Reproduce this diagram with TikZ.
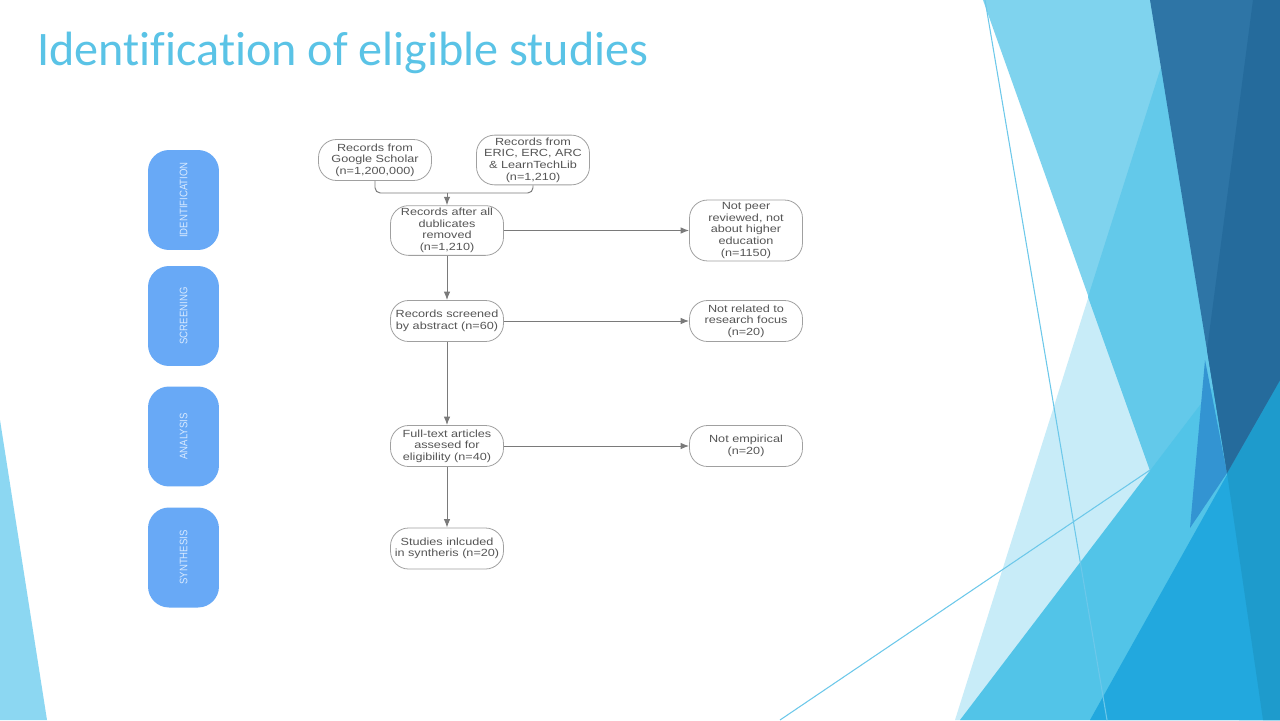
\documentclass[tikz,border=0pt]{standalone}
\usepackage{fontspec}
\setmainfont{Liberation Sans}
\newfontfamily\titlefont[Ligatures=NoCommon]{Carlito}
\newfontfamily\boxfont[FakeStretch=1.22]{Liberation Sans}
\newfontfamily\phasefont[FakeStretch=0.88]{Liberation Sans}
\usetikzlibrary{arrows.meta,positioning}

\definecolor{titleblue}{HTML}{5AC3E6}
\definecolor{phaseblue}{HTML}{68A9F6}
\definecolor{phasetext}{HTML}{D8EAFF}
\definecolor{boxline}{HTML}{A0A0A0}
\definecolor{boxtext}{HTML}{555555}
\definecolor{edgeline}{HTML}{7A7A7A}
\definecolor{deco0}{HTML}{8CD7F2}
\definecolor{deco1}{HTML}{C8ECF8}
\definecolor{deco2}{HTML}{7FD3EE}
\definecolor{deco3}{HTML}{63C9EA}
\definecolor{deco4}{HTML}{52C4E8}
\definecolor{deco5}{HTML}{22A8DE}
\definecolor{deco6}{HTML}{1E9BCC}
\definecolor{deco7}{HTML}{3394D2}
\definecolor{deco8}{HTML}{2E75A6}
\definecolor{deco9}{HTML}{256B9C}
\definecolor{decoline}{HTML}{6CC8EA}

\tikzset{
  flowbox/.style={draw=boxline,fill=white,rounded corners=0.36cm,align=center,text=boxtext,
    font=\boxfont\fontsize{5.9}{6.6}\selectfont,minimum width=2.26cm,minimum height=0.82cm,inner sep=1.5pt,line width=0.45pt},
  phase/.style={fill=phaseblue,rounded corners=0.42cm,rotate=90,minimum width=2.0cm,minimum height=1.42cm,
    text=phasetext,font=\phasefont\fontsize{6.2}{7}\selectfont},
  flow/.style={draw=edgeline,line width=0.55pt,-{Latex[length=1.7mm,width=1.3mm]}},
}

\begin{document}
\begin{tikzpicture}[x=0.02cm,y=-0.02cm]
\useasboundingbox[fill=white] (0,0) rectangle (1280,720);

% slide background
\fill[deco0] (0,420) -- (47,720) -- (0,720) -- cycle;
\fill[deco1] (1161,67) -- (955,720) -- (1280,720) -- (1280,0) -- cycle;
\fill[deco2] (983,0) -- (1280,0) -- (1280,720) -- (1239,720) -- cycle;
\fill[deco3] (1161,67) -- (1088,297) -- (1239,720) -- (1280,720) -- (1280,0) -- (1170,0) -- cycle;
\fill[deco4] (960,720) -- (1280,300) -- (1280,720) -- cycle;
\fill[deco5] (1090,720) -- (1280,380) -- (1280,720) -- cycle;
\fill[deco6] (1227,473) -- (1280,380) -- (1280,720) -- (1263,720) -- cycle;
\fill[deco7] (1205,360) -- (1227,473) -- (1190,528) -- cycle;
\fill[deco8] (1150,0) -- (1280,0) -- (1280,380) -- (1227,473) -- cycle;
\fill[deco9] (1253,0) -- (1280,0) -- (1280,380) -- (1227,473) -- (1207,350) -- cycle;
\draw[decoline,line width=0.6pt] (985,0) -- (1107,720);
\draw[decoline,line width=0.6pt] (780,720) -- (1150,470);

\node[anchor=west,text=titleblue,font=\titlefont\fontsize{27.4}{30}\selectfont,inner sep=0pt] (title) at (37,53) {Identification of eligible studies};

% phases
\node[phase] (ph_id) at (183.5,200) {IDENTIFICATION};
\node[phase] (ph_scr) at (183.5,316) {SCREENING};
\node[phase] (ph_an) at (183.5,436.5) {ANALYSIS};
\node[phase] (ph_syn) at (183.5,557.5) {SYNTHESIS};

% flow
\node[flowbox] (gs) at (375,160) {Records from\\Google Scholar\\(n=1,200,000)};
\node[flowbox] (eric) at (533,160) {Records from\\ERIC, ERC, ARC\\\& LearnTechLib\\(n=1,210)};
\node[flowbox] (dup) at (447,230.5) {Records after all\\dublicates\\removed\\(n=1,210)};
\node[flowbox] (npr) at (746,230.5) {Not peer\\reviewed, not\\about higher\\education\\(n=1150)};
\node[flowbox] (scr) at (447,321) {Records screened\\by abstract (n=60)};
\node[flowbox] (nrr) at (746,321) {Not related to\\research focus\\(n=20)};
\node[flowbox] (full) at (447,446) {Full-text articles\\assesed for\\eligibility (n=40)};
\node[flowbox] (nemp) at (746,446) {Not empirical\\(n=20)};
\node[flowbox] (syn) at (447,548.5) {Studies inlcuded\\in syntheris (n=20)};

\coordinate (mrg) at (447,193);
\draw[draw=edgeline,line width=0.55pt,rounded corners=3pt] (gs.south) |- (mrg);
\draw[draw=edgeline,line width=0.55pt,rounded corners=3pt] (eric.south) |- (mrg);
\draw[flow] (mrg) -- (dup.north);
\draw[flow] (dup) -- (npr);
\draw[flow] (dup) -- (scr);
\draw[flow] (scr) -- (nrr);
\draw[flow] (scr) -- (full);
\draw[flow] (full) -- (nemp);
\draw[flow] (full) -- (syn);
\end{tikzpicture}
\end{document}
